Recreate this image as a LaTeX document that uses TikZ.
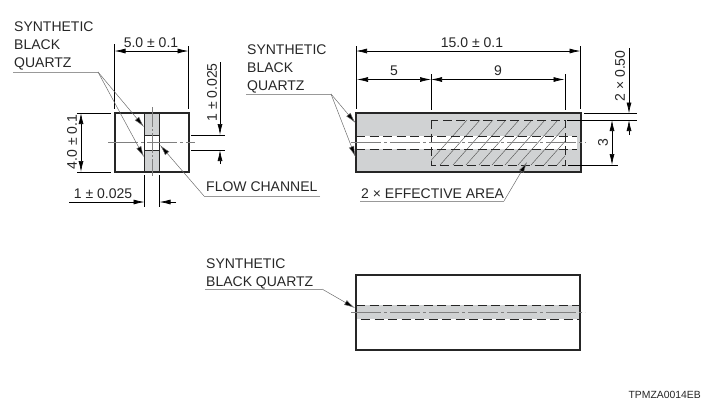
\documentclass[tikz,border=0pt]{standalone}
\usepackage{fontspec}
\setmainfont{Liberation Sans}
\usetikzlibrary{arrows.meta}
\definecolor{qgray}{RGB}{208,210,211}
\definecolor{lead}{RGB}{110,110,110}
\tikzset{
 x=1pt,y=-1pt,
 txt/.style={inner sep=0pt,font=\fontsize{14}{16}\selectfont,text=black!85},
 lbl/.style={txt,anchor=base west},
 dimc/.style={txt,anchor=center},
 body/.style={draw=black!85,line width=1.3pt},
 ext/.style={draw=black,line width=0.7pt},
 dimline/.style={draw=black,line width=0.7pt},
 dimarrows/.style={dimline,{Latex[length=11pt,width=5pt]}-{Latex[length=11pt,width=5pt]}},
 dimin/.style={dimline,-{Latex[length=11pt,width=5pt]}},
 leadline/.style={draw=lead,line width=0.5pt},
 leadarrow/.style={leadline,-{Latex[length=11pt,width=5.5pt,fill=black]}},
 rule/.style={draw=lead!70,line width=0.7pt},
 dashl/.style={draw=black!85,line width=0.8pt,dash pattern=on 9pt off 4.5pt},
 center/.style={draw=black!50,line width=0.5pt,dash pattern=on 30pt off 3pt on 3pt off 3pt},
 hatchl/.style={draw=black!65,line width=0.45pt},
}
\begin{document}
\begin{tikzpicture}
\useasboundingbox (0,0) rectangle (716,405);
% ---------- left view
\fill[qgray] (144.5,113) rectangle (159.5,135);
\fill[qgray] (144.5,150) rectangle (159.5,172);
\draw[black!85,line width=0.8pt] (144.5,113) -- (144.5,172) (159.5,113) -- (159.5,172) (144.5,135) -- (159.5,135) (144.5,150) -- (159.5,150);
\draw[body] (115,113) rectangle (189,172);
\draw[center] (108,142) -- (195,142);
\draw[center,dash pattern=on 20pt off 2pt on 2pt off 2pt] (152,107) -- (152,176);
% dims left
\coordinate (a1) at (114.5,51); \coordinate (a2) at (188.5,51);
\draw[ext] (114.5,44) -- (114.5,109) (188.5,46) -- (188.5,109);
\draw[dimarrows] (a1) -- (a2);
\node[dimc] (d50) at (151,43) {5.0 ± 0.1};
\coordinate (b1) at (81,113); \coordinate (b2) at (81,172);
\draw[ext] (77,113) -- (111,113) (77,172) -- (111,172);
\draw[dimarrows] (b1) -- (b2);
\node[dimc,rotate=90] (d40) at (72,142) {4.0 ± 0.1};
\draw[ext] (191,135) -- (225,135) (191,150) -- (225,150);
\coordinate (c0) at (220,62); \coordinate (c1) at (220,135);
\coordinate (c2) at (220,164); \coordinate (c3) at (220,150);
\draw[dimin] (c0) -- (c1);
\draw[dimin] (c2) -- (c3);
\node[dimc,rotate=90] (d1r) at (212,92.5) {1 ± 0.025};
\draw[ext] (144.5,175) -- (144.5,207) (159.5,175) -- (159.5,207);
\coordinate (e0) at (69,202); \coordinate (e1) at (144.5,202);
\coordinate (e2) at (176,202); \coordinate (e3) at (159.5,202);
\draw[dimin] (e0) -- (e1);
\draw[dimin] (e2) -- (e3);
\node[dimc] (d1b) at (103,194) {1 ± 0.025};
% labels left
\node[lbl] (s1a) at (14,31) {SYNTHETIC};
\node[lbl] (s1b) at (14,49) {BLACK};
\node[lbl] (s1c) at (14,67) {QUARTZ};
\coordinate (u1a) at (13,72); \coordinate (u1b) at (98,72);
\coordinate (t1) at (144,127); \coordinate (t2) at (144,157);
\draw[rule] (u1a) -- (u1b);
\draw[leadarrow] (u1b) -- (t1);
\draw[leadarrow] (u1b) -- (t2);
\node[lbl] (flow) at (206,191) {FLOW CHANNEL};
\coordinate (u2a) at (320,196); \coordinate (u2b) at (204,196);
\coordinate (t3) at (160,145);
\draw[rule] (u2a) -- (u2b);
\draw[leadarrow] (u2b) -- (t3);
% ---------- right view
\fill[qgray] (356,113) rectangle (581,172);
\fill[white] (356,136) rectangle (577,149);
\fill[qgray] (577,136) rectangle (581,149);
\begin{scope}
\clip (431,120) rectangle (565,165);
\foreach \i in {0,...,13}{
 \draw[hatchl] ({431+\i*13-4},165) -- ({431+\i*13+36},120);
}
\end{scope}
\draw[dashl] (356,136) -- (577,136) (356,149) -- (577,149);
\draw[dashl] (431,120) rectangle (565,165);
\draw[body] (356,113) rectangle (581,172);
\draw[center] (351,142) -- (586,142);
% dims right
\draw[ext] (356,46) -- (356,109) (580.5,46) -- (580.5,109);
\coordinate (f1) at (356,51); \coordinate (f2) at (580.5,51);
\draw[dimarrows] (f1) -- (f2);
\node[dimc] (d15) at (472,43) {15.0 ± 0.1};
\draw[ext] (431,74) -- (431,110) (565,74) -- (565,110);
\coordinate (g1) at (357,79.5); \coordinate (g2) at (431,79.5); \coordinate (g3) at (564.5,79.5);
\draw[dimarrows] (g1) -- (g2);
\draw[dimarrows] (g2) -- (g3);
\node[dimc] (d5) at (394,71) {5};
\node[dimc] (d9) at (498,70.5) {9};
\draw[ext] (584,113.5) -- (637,113.5) (567,120) -- (637,120) (568,165) -- (618,165);
\coordinate (h0) at (629,48); \coordinate (h1) at (629,113.5);
\coordinate (h2) at (629,135); \coordinate (h3) at (629,120);
\draw[dimin] (h0) -- (h1);
\draw[dimin] (h2) -- (h3);
\node[dimc,rotate=90] (d2x) at (620,76) {2 × 0.50};
\coordinate (i1) at (612,120); \coordinate (i2) at (612,165);
\draw[dimarrows] (i1) -- (i2);
\node[dimc,rotate=90] (d3) at (603,143) {3};
% labels right
\node[lbl] (s2a) at (247,54) {SYNTHETIC};
\node[lbl] (s2b) at (247,72) {BLACK};
\node[lbl] (s2c) at (247,90) {QUARTZ};
\coordinate (u3a) at (246,94); \coordinate (u3b) at (331,94);
\coordinate (t4) at (355.5,123); \coordinate (t5) at (355.5,157);
\draw[rule] (u3a) -- (u3b);
\draw[leadarrow] (u3b) -- (t4);
\draw[leadarrow] (u3b) -- (t5);
\node[lbl] (eff) at (361,198) {2 × EFFECTIVE AREA};
\coordinate (u4a) at (360,201); \coordinate (u4b) at (504,201);
\coordinate (t6) at (527,162);
\draw[rule] (u4a) -- (u4b);
\draw[leadarrow] (u4b) -- (t6);
% ---------- bottom view
\fill[qgray] (356,305) rectangle (580,319);
\draw[dashl] (356,305) -- (580,305) (361,319) -- (580,319);
\draw[body,line width=1.1pt] (356,275) rectangle (580,350);
\draw[center] (351,312) -- (585,312);
\node[lbl] (s3a) at (206,268) {SYNTHETIC};
\node[lbl] (s3b) at (206,286) {BLACK QUARTZ};
\coordinate (u5a) at (205,289); \coordinate (u5b) at (322,289);
\coordinate (t7) at (355,308);
\draw[rule] (u5a) -- (u5b);
\draw[leadarrow] (u5b) -- (t7);
\node[txt,anchor=base east,font=\fontsize{10.4}{12}\selectfont] (code) at (701,398) {TPMZA0014EB};
\end{tikzpicture}
\end{document}
